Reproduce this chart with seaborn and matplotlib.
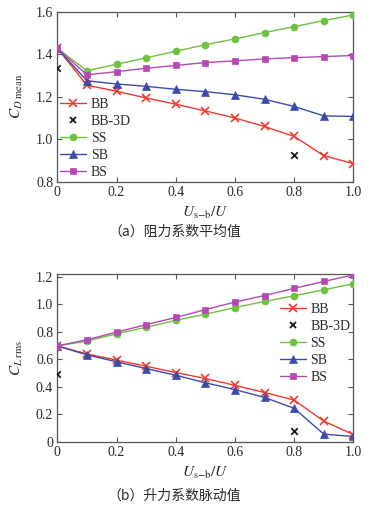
import numpy as np
import pandas as pd
import matplotlib
matplotlib.use("Agg")
import matplotlib.pyplot as plt
import seaborn as sns

# ---- data ----
x_vals = [0.0, 0.1, 0.2, 0.3, 0.4, 0.5, 0.6, 0.7, 0.8, 0.9, 1.0]

cd_bb = [1.428, 1.254, 1.226, 1.194, 1.165, 1.133, 1.100, 1.060, 1.013, 0.923, 0.885]
cd_ss = [1.428, 1.322, 1.353, 1.383, 1.414, 1.445, 1.472, 1.502, 1.530, 1.558, 1.585]
cd_sb = [1.428, 1.275, 1.260, 1.249, 1.235, 1.224, 1.209, 1.188, 1.154, 1.110, 1.107]
cd_bs = [1.428, 1.303, 1.318, 1.334, 1.347, 1.361, 1.369, 1.378, 1.384, 1.389, 1.394]
cd_3d_x = [0.0, 0.8]
cd_3d = [1.337, 0.926]

cl_bb = [0.697, 0.639, 0.594, 0.549, 0.503, 0.460, 0.410, 0.358, 0.303, 0.150, 0.052]
cl_ss = [0.697, 0.732, 0.785, 0.833, 0.883, 0.928, 0.976, 1.021, 1.062, 1.105, 1.150]
cl_sb = [0.697, 0.632, 0.582, 0.532, 0.484, 0.429, 0.379, 0.322, 0.243, 0.055, 0.038]
cl_bs = [0.697, 0.742, 0.797, 0.852, 0.904, 0.961, 1.016, 1.064, 1.116, 1.166, 1.214]
cl_3d_x = [0.0, 0.8]
cl_3d = [0.496, 0.079]

series_names = ["BB", "SS", "SB", "BS"]
x_ticks = [0.0, 0.2, 0.4, 0.6, 0.8, 1.0]
x_ticklabels = ["0", "0.2", "0.4", "0.6", "0.8", "1.0"]
cd_ticks = [0.8, 1.0, 1.2, 1.4, 1.6]
cd_ticklabels = ["0.8", "1.0", "1.2", "1.4", "1.6"]
cl_ticks = [0.0, 0.2, 0.4, 0.6, 0.8, 1.0, 1.2]
cl_ticklabels = ["0", "0.2", "0.4", "0.6", "0.8", "1.0", "1.2"]

caption_a = "（a）阻力系数平均值"
caption_b = "（b）升力系数脉动值"

# ---- style ----
sns.set_theme(style="ticks")
plt.rcParams["font.family"] = ["Liberation Serif", "DejaVu Serif"]
plt.rcParams["mathtext.fontset"] = "stix"

colors = {"BB": "#f0392e", "SS": "#6cc23e", "SB": "#3a4ca8", "BS": "#b548b5"}
markers = {"BB": "x", "SS": "o", "SB": "^", "BS": "s"}
msizes = {"BB": 6, "SS": 5, "SB": 6, "BS": 4.5}

fig = plt.figure(figsize=(3.71, 5.08), dpi=100)
ax1 = fig.add_axes([0.1545, 0.6423, 0.798, 0.3346])
ax2 = fig.add_axes([0.1545, 0.1305, 0.798, 0.3300])

spine_c = "#555555"
text_c = "#2a2a2a"


def draw(ax, data, x3d, y3d):
    df = pd.DataFrame({"x": x_vals * 4,
                       "y": sum(data, []),
                       "series": sum([[n] * len(x_vals) for n in series_names], [])})
    handles = {}
    for name in series_names:
        sub = df[df["series"] == name]
        sns.lineplot(data=sub, x="x", y="y", ax=ax, color=colors[name],
                     marker=markers[name], markersize=msizes[name],
                     markeredgewidth=1.2 if name == "BB" else 0.5,
                     markeredgecolor=colors[name], linewidth=1.0,
                     label=name, legend=False, zorder=3)
        handles[name] = ax.lines[-1]
    sns.scatterplot(x=x3d, y=y3d, ax=ax, marker="x", color="#1a1a1a",
                    s=22, linewidth=1.3, zorder=4, legend=False)
    h3d = plt.Line2D([], [], linestyle="none", marker="x", color="#1a1a1a",
                     markersize=5, markeredgewidth=1.3)
    order = [handles["BB"], h3d, handles["SS"], handles["SB"], handles["BS"]]
    labels = ["BB", "BB-3D", "SS", "SB", "BS"]
    return order, labels


leg_kw = dict(frameon=False, fontsize=10, handlelength=1.9, handletextpad=0.3,
              labelspacing=0.29, borderaxespad=0.0, borderpad=0.2,
              labelcolor=text_c)

h, l = draw(ax1, [cd_bb, cd_ss, cd_sb, cd_bs], cd_3d_x, cd_3d)
ax1.legend(h, l, loc="lower left", bbox_to_anchor=(0.0, 0.0), **leg_kw)
h, l = draw(ax2, [cl_bb, cl_ss, cl_sb, cl_bs], cl_3d_x, cl_3d)
ax2.legend(h, l, loc="upper right", bbox_to_anchor=(1.0, 0.845), **leg_kw)

for ax, yt, ytl, ylim in [(ax1, cd_ticks, cd_ticklabels, (0.8, 1.6)),
                          (ax2, cl_ticks, cl_ticklabels, (0.0, 1.22))]:
    ax.set_xlim(0, 1.0)
    ax.set_ylim(*ylim)
    ax.set_xticks(x_ticks)
    ax.set_xticklabels(x_ticklabels)
    ax.set_yticks(yt)
    ax.set_yticklabels(ytl)
    ax.tick_params(direction="in", top=True, right=True, length=3.5, width=0.8,
                   color=spine_c, labelsize=10, labelcolor=text_c, pad=3)
    for s in ax.spines.values():
        s.set_color(spine_c)
        s.set_linewidth(0.9)
        s.set_visible(True)
    ax.set_xlabel(r"$U_{\mathrm{s}\mathrm{-}\mathrm{b}}/U$",
                  fontsize=11, color=text_c, labelpad=4)

ax1.set_ylabel(r"$C_{D\ \mathrm{mean}}$", fontsize=11, color=text_c, labelpad=8)
ax2.set_ylabel(r"$C_{L\ \mathrm{rms}}$", fontsize=11, color=text_c, labelpad=8)

fig.text(0.47, 1 - 232 / 508, caption_a, ha="center", va="center", fontsize=10,
         family=["Noto Sans CJK SC", "DejaVu Sans"], color=text_c)
fig.text(0.47, 1 - 496 / 508, caption_b, ha="center", va="center", fontsize=10,
         family=["Noto Sans CJK SC", "DejaVu Sans"], color=text_c)

fig.savefig("out.png", dpi=100)
